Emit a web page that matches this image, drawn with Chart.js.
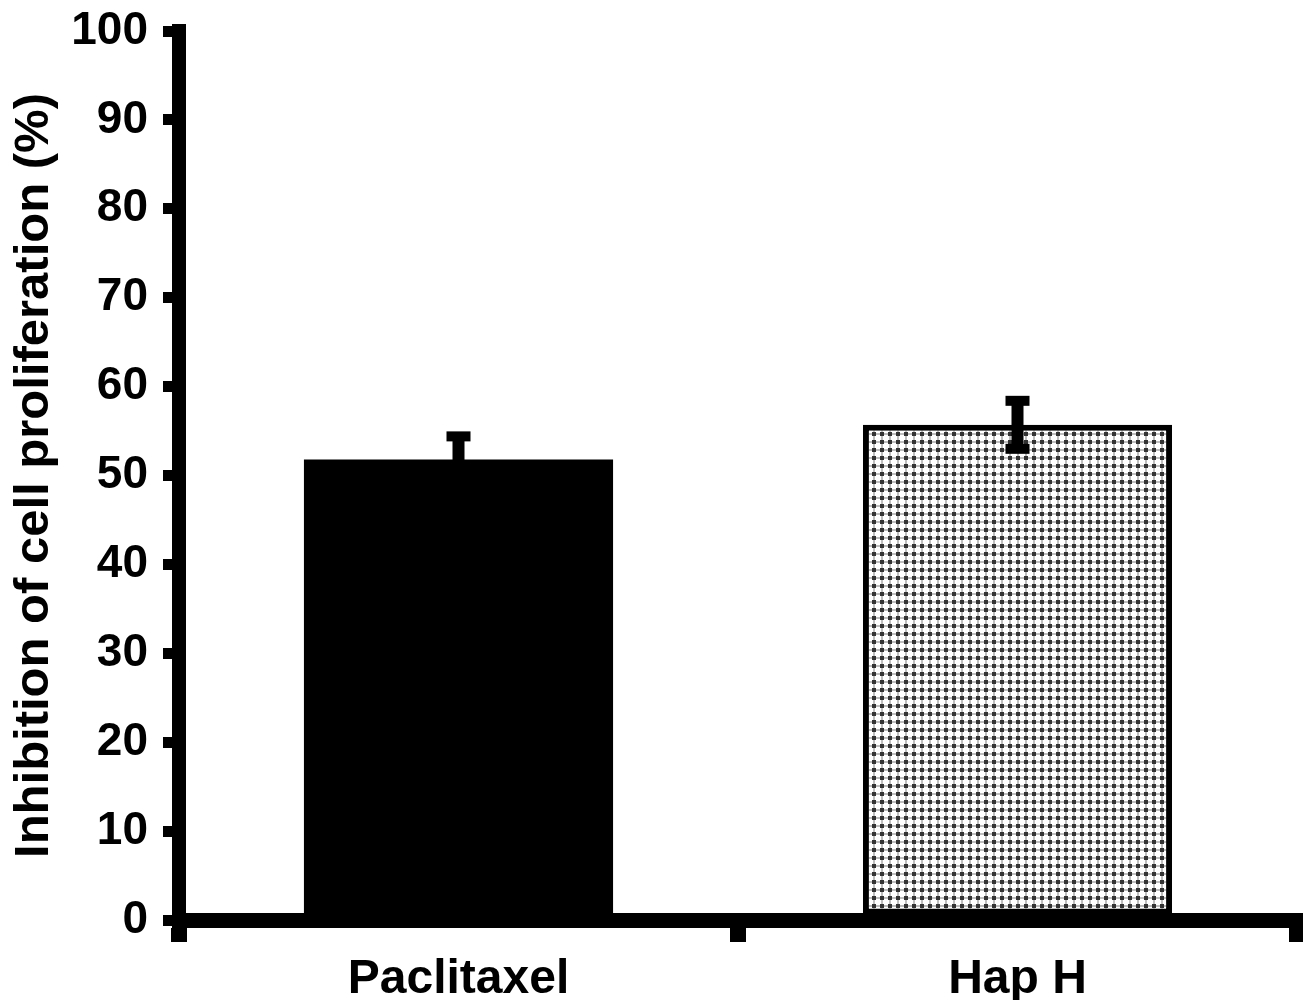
<!DOCTYPE html>
<html>
<head>
<meta charset="utf-8">
<script src="https://cdn.jsdelivr.net/npm/chart.js@4.4.0/dist/chart.umd.min.js"></script>
<style>
  body { margin: 0; background: #fff; }
  #wrap { width: 1303px; height: 1000px; }
</style>
</head>
<body>
<div id="wrap"><canvas id="chart-inhibition" width="1303" height="1000"></canvas></div>
<script>
const labelsInhibition = ["Paclitaxel", "Hap H"];
const valuesInhibition = [51.8, 55.7];
const errorsInhibition = [2.6, 2.7];
const yTicksInhibition = [0, 10, 20, 30, 40, 50, 60, 70, 80, 90, 100];

const fontFamily = "'Liberation Sans', Arial, sans-serif";

// checkered fill for the second bar
const tile = document.createElement("canvas");
tile.width = 8;
tile.height = 8;
const tctx = tile.getContext("2d");
tctx.fillStyle = "#ffffff";
tctx.fillRect(0, 0, 8, 8);
tctx.fillStyle = "#bdbdbd";
tctx.fillRect(0, 1, 8, 2);
tctx.fillRect(1, 0, 2, 8);
tctx.fillStyle = "#333333";
tctx.fillRect(0, 0, 4, 4);

const chartInhibition = document.querySelector("#chart-inhibition").getContext("2d");
const patternHap = chartInhibition.createPattern(tile, "repeat");

const errorBars = {
  id: "errorBars",
  afterDatasetsDraw(chart) {
    const ctx = chart.ctx;
    const yScale = chart.scales.y;
    const meta = chart.getDatasetMeta(0);
    ctx.save();
    ctx.fillStyle = "#000";
    meta.data.forEach((bar, i) => {
      const v = valuesInhibition[i];
      const e = errorsInhibition[i];
      const top = yScale.getPixelForValue(v + e);
      const bottom = yScale.getPixelForValue(v - e);
      ctx.fillRect(bar.x - 6, top, 12, bottom - top);
      ctx.fillRect(bar.x - 12, top - 5, 24, 10);
      ctx.fillRect(bar.x - 12, bottom - 5, 24, 10);
    });
    ctx.restore();
  },
};

new Chart(chartInhibition, {
  type: "bar",
  data: {
    labels: labelsInhibition,
    datasets: [
      {
        data: valuesInhibition,
        backgroundColor: ["#000000", patternHap],
        borderColor: "#000000",
        borderWidth: [0, 6],
        borderSkipped: false,
        categoryPercentage: 1,
        barPercentage: 0.553,
      },
    ],
  },
  options: {
    responsive: false,
    animation: false,
    layout: { padding: { top: 31, right: 6, left: 0, bottom: 0 } },
    plugins: {
      legend: { display: false },
      tooltip: { enabled: false },
    },
    scales: {
      x: {
        grid: {
          drawOnChartArea: false,
          drawTicks: true,
          tickLength: 22,
          lineWidth: 16,
          color: "#000",
          offset: true,
        },
        border: { display: true, width: 15, color: "#000" },
        ticks: {
          color: "#000",
          font: { family: fontFamily, size: 48, weight: "bold" },
          padding: 9,
          maxRotation: 0,
        },
        afterFit(scale) { scale.height = 80; },
      },
      y: {
        min: 0,
        max: 100,
        afterBuildTicks(scale) {
          scale.ticks = yTicksInhibition.map((v) => ({ value: v }));
        },
        grid: {
          drawOnChartArea: false,
          drawTicks: true,
          tickLength: 16,
          lineWidth: 11,
          color: "#000",
        },
        border: { display: true, width: 14, color: "#000" },
        ticks: {
          color: "#000",
          font: { family: fontFamily, size: 46, weight: "bold" },
          padding: 15,
        },
        title: {
          display: true,
          text: "Inhibition of cell proliferation (%)",
          color: "#000",
          font: { family: fontFamily, size: 49, weight: "bold" },
          padding: { top: 5, bottom: 0 },
        },
        afterFit(scale) {
          scale.width = 179;
          scale.paddingTop = 0;
          scale.paddingBottom = 0;
        },
      },
    },
  },
  plugins: [errorBars],
});
</script>
</body>
</html>
